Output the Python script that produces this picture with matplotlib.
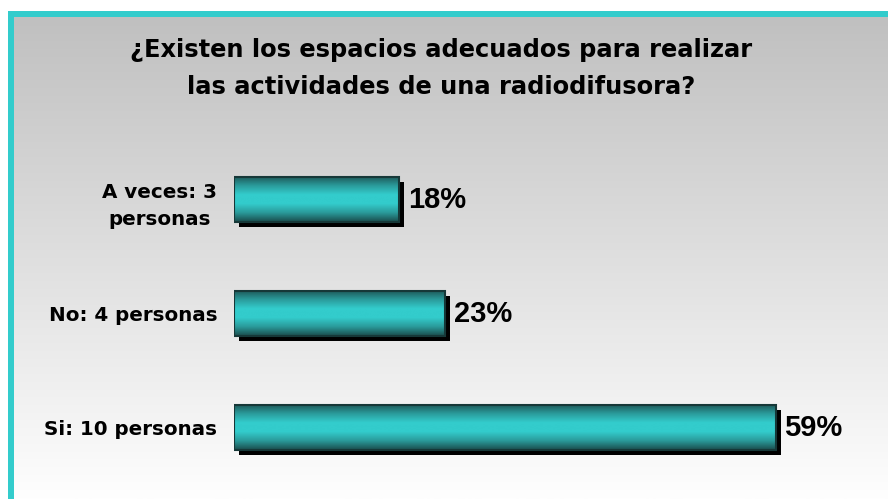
import numpy as np
import matplotlib
matplotlib.use('Agg')
import matplotlib.pyplot as plt
from matplotlib.colors import LinearSegmentedColormap
from matplotlib.patches import Rectangle
from matplotlib.font_manager import FontProperties
import matplotlib.patheffects as pe

# data
categories = ['Si: 10 personas', 'No: 4 personas', 'A veces: 3\npersonas']
percents = [59, 23, 18]
pct_labels = ['59%', '23%', '18%']
title = '¿Existen los espacios adecuados para realizar\nlas actividades de una radiodifusora?'

W, H = 888, 499
fig = plt.figure(figsize=(W / 100, H / 100), dpi=100)
fig.patch.set_facecolor('white')

arial = FontProperties(family='Liberation Sans', weight='bold')

# background panel with cyan frame and grey->white gradient
bg = fig.add_axes([0, 0, 1, 1])
bg.axis('off')
cyan = '#33CCCC'
bg.add_patch(Rectangle((8, 11), W, H, facecolor=cyan, edgecolor='none', zorder=0))
grad = np.linspace(0, 1, 256).reshape(-1, 1)
bg_cmap = LinearSegmentedColormap.from_list('bg', ['#C0C0C0', '#FEFEFE'])
bg.imshow(grad, cmap=bg_cmap, extent=(14, W, H, 17), aspect='auto', zorder=1)
bg.set_xlim(0, W)
bg.set_ylim(H, 0)

fig.text(0.497, 0.862, title, ha='center', va='center', fontsize=17.4,
         fontweight='bold', family='DejaVu Sans', linespacing=1.69)

# bars
ax = fig.add_axes([234 / W, 1 - 484.5 / H, 597 / W, 342 / H])
ax.patch.set_alpha(0)
for s in ax.spines.values():
    s.set_visible(False)
ax.set_xticks([])
ypos = np.arange(len(categories))
ax.set_yticks(ypos)
ax.set_yticklabels(categories, fontsize=14.3, fontweight='bold', family='DejaVu Sans')
ax.tick_params(axis='y', length=0, pad=12)
for lbl in ax.get_yticklabels():
    lbl.set_multialignment('center')
    lbl.set_linespacing(1.55)

bar_cmap = LinearSegmentedColormap.from_list(
    'bar', ['#1d5555', '#2a9a9a', '#33CCCC', '#33CCCC', '#2a9a9a', '#1a4c4c'])
bar_h = 0.395
bars = ax.barh(ypos, percents, height=bar_h, color=cyan, edgecolor='none', zorder=1,
               path_effects=[pe.SimplePatchShadow(offset=(3.5, -3.5), shadow_rgbFace='black', alpha=1),
                             pe.Normal()])
vgrad = np.linspace(0, 1, 128).reshape(-1, 1)
for b in bars:
    x0, y0, w, h = b.get_x(), b.get_y(), b.get_width(), b.get_height()
    ax.imshow(vgrad, cmap=bar_cmap, extent=(x0, x0 + w, y0, y0 + h), aspect='auto', zorder=2)
ax.barh(ypos, percents, height=bar_h, facecolor='none', edgecolor='#163838', linewidth=1.5, zorder=3)
ax.set_xlim(0, 65)
ax.set_ylim(-0.5, 2.5)

for y, v, s in zip(ypos, percents, pct_labels):
    a = ax.annotate(s, (v, y), xytext=(6, 0), textcoords='offset points', va='center', ha='left',
                    fontproperties=arial)
    a.set_fontsize(21)

fig.savefig('out.png', dpi=100)
